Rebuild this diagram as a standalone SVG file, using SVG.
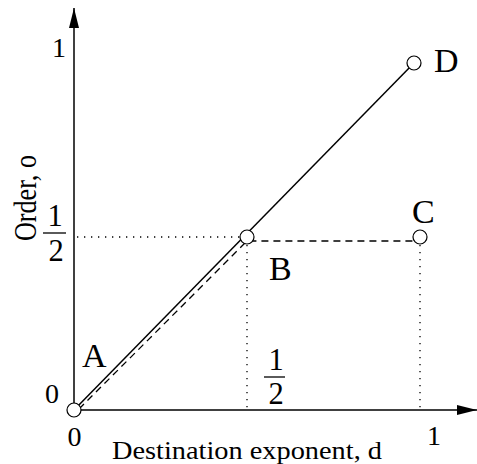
<svg xmlns="http://www.w3.org/2000/svg" width="477" height="464" viewBox="0 0 477 464">
<style>
text{font-family:"Liberation Serif","Times New Roman",serif;fill:#000}
.axis{stroke:#000;stroke-width:1.5;fill:none}
.dot{stroke:#000;stroke-width:1.3;fill:none;stroke-dasharray:1.3 5.7}
.dash{stroke:#000;stroke-width:1.3;fill:none;stroke-dasharray:7 5}
.solid{stroke:#000;stroke-width:1.5;fill:none}
.pt{fill:#fff;stroke:#000;stroke-width:1.2}
.lbl{font-size:34px}
.num{font-size:28px;text-anchor:middle}
.frac{font-size:30.5px;text-anchor:middle}
.bar{stroke:#000;stroke-width:1.3}
</style>
<defs>
<marker id="ah" viewBox="0 0 20 10" refX="20" refY="5" markerWidth="20" markerHeight="10" markerUnits="userSpaceOnUse" orient="auto">
<path d="M0,0 L20,5 L0,10 Z" fill="#000"/>
</marker>
</defs>
<g id="connectors">
<line class="axis" x1="74" y1="410" x2="74" y2="8" marker-end="url(#ah)"/>
<line class="axis" x1="74" y1="410" x2="477" y2="410" marker-end="url(#ah)"/>
<line class="dot" x1="77" y1="237" x2="240" y2="237"/>
<line class="dot" x1="247" y1="245" x2="247" y2="410"/>
<line class="dot" x1="420" y1="245" x2="420" y2="410"/>
<polyline class="dash" points="79,409 247,241 413,241"/>
<line class="solid" x1="74" y1="410" x2="414" y2="63"/>
</g>
<g id="axis-labels">
<text x="36" y="198" font-size="31" text-anchor="middle" transform="rotate(-90 36 198)" textLength="86" lengthAdjust="spacingAndGlyphs">Order, o</text>
<text x="112" y="459" font-size="26" textLength="270" lengthAdjust="spacingAndGlyphs">Destination exponent, d</text>
<text class="num" x="59" y="57">1</text>
<text class="num" x="52" y="403">0</text>
<text class="num" x="74.5" y="446">0</text>
<text class="num" x="434" y="445">1</text>
</g>
<g id="frac-y">
<text class="frac" x="55" y="226">1</text>
<line class="bar" x1="43" y1="233" x2="66" y2="233"/>
<text class="frac" x="56" y="261">2</text>
</g>
<g id="frac-x">
<text class="frac" x="276" y="370">1</text>
<line class="bar" x1="264" y1="377" x2="285" y2="377"/>
<text class="frac" x="276" y="404">2</text>
</g>
<g id="A"><circle class="pt" cx="74" cy="410" r="7"/><text class="lbl" x="82" y="367">A</text></g>
<g id="B"><circle class="pt" cx="247" cy="237" r="7"/><text class="lbl" x="269" y="280">B</text></g>
<g id="C"><circle class="pt" cx="420" cy="237" r="7"/><text class="lbl" x="412" y="223">C</text></g>
<g id="D"><circle class="pt" cx="414" cy="63" r="7"/><text class="lbl" x="434" y="72">D</text></g>
</svg>
